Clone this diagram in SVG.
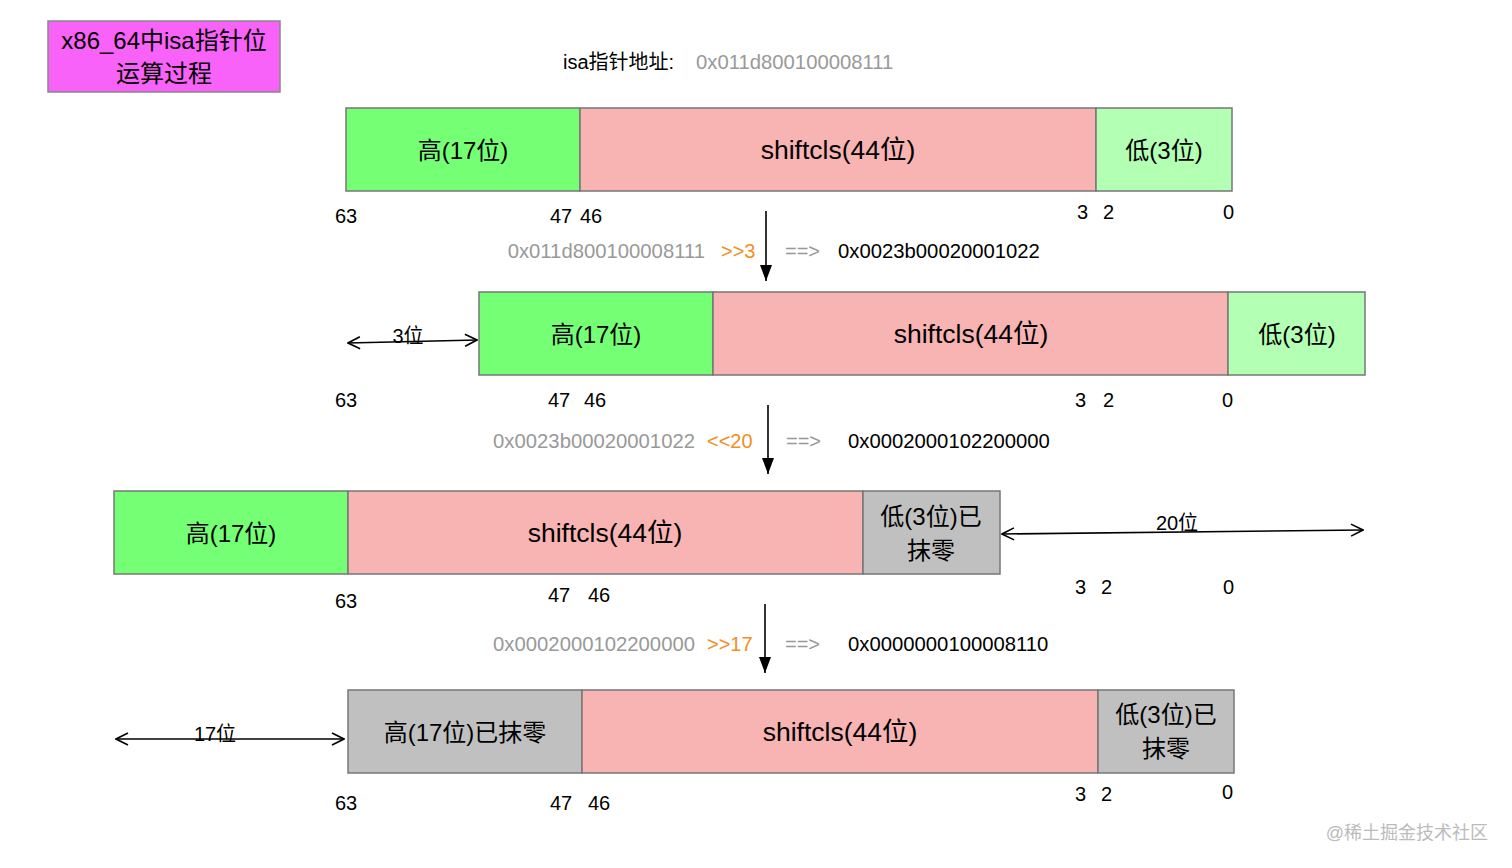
<svg xmlns="http://www.w3.org/2000/svg" width="1512" height="868" viewBox="0 0 1512 868">
<defs>
<style>
text{font-family:"Liberation Sans","Noto Sans CJK SC",sans-serif;fill:#000}
.b{font-size:24px;text-anchor:middle;dominant-baseline:central}
.s{font-size:26.5px;text-anchor:middle;dominant-baseline:central}
.n{font-size:20px;dominant-baseline:central}
.h{font-size:20.3px;dominant-baseline:central}
.g{fill:#999}
.o{fill:#F0901F}
.hi{fill:#75FF75;stroke:#777;stroke-width:1.5}
.mid{fill:#F8B3B3;stroke:#777;stroke-width:1.5}
.lo{fill:#B3FFB3;stroke:#777;stroke-width:1.5}
.z{fill:#C0C0C0;stroke:#777;stroke-width:1.5}
.ln{stroke:#000;stroke-width:1.6;fill:none}
</style>
<marker id="fa" viewBox="0 0 16 12" refX="16" refY="6" markerWidth="16" markerHeight="12" markerUnits="userSpaceOnUse" orient="auto">
<path d="M0,0 L16,6 L0,12 z" fill="#000"/>
</marker>
<marker id="oa" viewBox="0 0 14 14" refX="13" refY="7" markerWidth="14" markerHeight="14" markerUnits="userSpaceOnUse" orient="auto-start-reverse">
<path d="M1,1 L13,7 L1,13" fill="none" stroke="#000" stroke-width="1.6"/>
</marker>
</defs>
<rect width="1512" height="868" fill="#fff"/>

<g id="title">
<rect x="48" y="21" width="232" height="71" fill="#F862F8" stroke="#888" stroke-width="1.5"/>
<text class="b" x="164" y="40">x86_64中isa指针位</text>
<text class="b" x="164" y="73">运算过程</text>
</g>

<g id="addr">
<text class="n" x="563" y="62">isa指针地址:</text>
<text class="h g" x="696" y="62">0x011d800100008111</text>
</g>

<g id="row1">
<rect class="hi" x="346" y="108" width="234" height="83"/>
<rect class="mid" x="580" y="108" width="516" height="83"/>
<rect class="lo" x="1096" y="108" width="136" height="83"/>
<text class="b" x="463" y="150">高(17位)</text>
<text class="s" x="838" y="150">shiftcls(44位)</text>
<text class="b" x="1164" y="150">低(3位)</text>
<text class="n" x="335" y="216">63</text>
<text class="n" x="550" y="216">47</text>
<text class="n" x="580" y="216">46</text>
<text class="n" x="1077" y="212">3</text>
<text class="n" x="1103" y="212">2</text>
<text class="n" x="1223" y="212">0</text>
</g>

<g id="op1">
<text class="h g" x="705" y="251" text-anchor="end">0x011d800100008111</text>
<text class="n o" x="721" y="251">&gt;&gt;3</text>
<text class="n g" x="785" y="251">==&gt;</text>
<text class="h" x="838" y="251">0x0023b00020001022</text>
</g>

<g id="row2">
<rect class="hi" x="479" y="292" width="234" height="83"/>
<rect class="mid" x="713" y="292" width="515" height="83"/>
<rect class="lo" x="1228" y="292" width="137" height="83"/>
<text class="b" x="596" y="334">高(17位)</text>
<text class="s" x="971" y="334">shiftcls(44位)</text>
<text class="b" x="1297" y="334">低(3位)</text>
<text class="n" x="408" y="336" text-anchor="middle">3位</text>
<text class="n" x="335" y="400">63</text>
<text class="n" x="548" y="400">47</text>
<text class="n" x="584" y="400">46</text>
<text class="n" x="1075" y="400">3</text>
<text class="n" x="1103" y="400">2</text>
<text class="n" x="1222" y="400">0</text>
</g>

<g id="op2">
<text class="h g" x="695" y="441" text-anchor="end">0x0023b00020001022</text>
<text class="n o" x="707" y="441">&lt;&lt;20</text>
<text class="n g" x="786" y="441">==&gt;</text>
<text class="h" x="848" y="441">0x0002000102200000</text>
</g>

<g id="row3">
<rect class="hi" x="114" y="491" width="234" height="83"/>
<rect class="mid" x="348" y="491" width="515" height="83"/>
<rect class="z" x="863" y="491" width="137" height="83"/>
<text class="b" x="231" y="533">高(17位)</text>
<text class="s" x="605" y="533">shiftcls(44位)</text>
<text class="b" x="931" y="516">低(3位)已</text>
<text class="b" x="931" y="550">抹零</text>
<text class="n" x="1177" y="523" text-anchor="middle">20位</text>
<text class="n" x="335" y="601">63</text>
<text class="n" x="548" y="595">47</text>
<text class="n" x="588" y="595">46</text>
<text class="n" x="1075" y="587">3</text>
<text class="n" x="1101" y="587">2</text>
<text class="n" x="1223" y="587">0</text>
</g>

<g id="op3">
<text class="h g" x="695" y="644" text-anchor="end">0x0002000102200000</text>
<text class="n o" x="707" y="644">&gt;&gt;17</text>
<text class="n g" x="785" y="644">==&gt;</text>
<text class="h" x="848" y="644">0x0000000100008110</text>
</g>

<g id="row4">
<rect class="z" x="348" y="690" width="234" height="83"/>
<rect class="mid" x="582" y="690" width="516" height="83"/>
<rect class="z" x="1098" y="690" width="136" height="83"/>
<text class="b" x="465" y="732">高(17位)已抹零</text>
<text class="s" x="840" y="732">shiftcls(44位)</text>
<text class="b" x="1166" y="714">低(3位)已</text>
<text class="b" x="1166" y="748">抹零</text>
<text class="n" x="215" y="734" text-anchor="middle">17位</text>
<text class="n" x="335" y="803">63</text>
<text class="n" x="550" y="803">47</text>
<text class="n" x="588" y="803">46</text>
<text class="n" x="1075" y="794">3</text>
<text class="n" x="1101" y="794">2</text>
<text class="n" x="1222" y="792">0</text>
</g>

<g id="connectors">
<line class="ln" x1="766" y1="211" x2="766" y2="281" marker-end="url(#fa)"/>
<line class="ln" x1="768" y1="405" x2="768" y2="474" marker-end="url(#fa)"/>
<line class="ln" x1="765" y1="604" x2="765" y2="673" marker-end="url(#fa)"/>
<line class="ln" x1="348" y1="343" x2="477" y2="340" marker-start="url(#oa)" marker-end="url(#oa)"/>
<line class="ln" x1="1002" y1="534" x2="1363" y2="530" marker-start="url(#oa)" marker-end="url(#oa)"/>
<line class="ln" x1="116" y1="739" x2="344" y2="739" marker-start="url(#oa)" marker-end="url(#oa)"/>
</g>

<text x="1488" y="833" font-size="18" text-anchor="end" dominant-baseline="central" style="fill:#bbb">@稀土掘金技术社区</text>
</svg>
